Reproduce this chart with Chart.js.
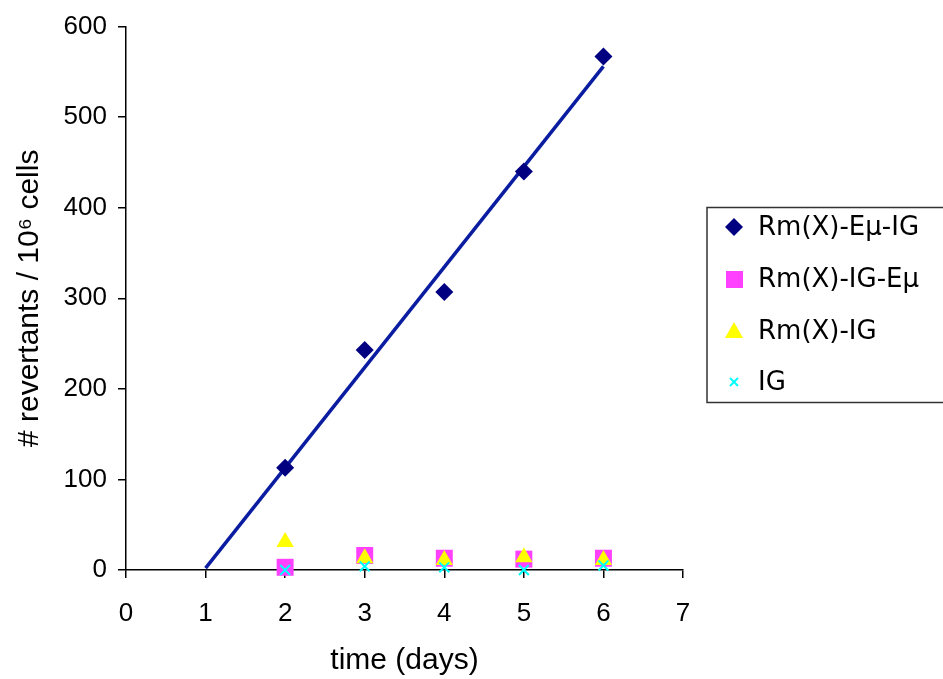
<!DOCTYPE html>
<html>
<head>
<meta charset="utf-8">
<title>revertants over time</title>
<script src="https://cdn.jsdelivr.net/npm/chart.js@4.4.1/dist/chart.umd.min.js"></script>
<style>
  body { margin: 0; background: #fff; }
  #wrap { width: 943px; height: 679px; position: relative; }
</style>
</head>
<body>
<div id="wrap"><canvas id="chart-canvas"></canvas></div>
<script>
'use strict';
// data
var days = [2, 3, 4, 5, 6];
var emuIG = [113, 243, 307, 440, 567];   // Rm(X)-Eμ-IG
var igEmu = [3, 16, 13, 12, 13];         // Rm(X)-IG-Eμ
var rmIG = [31, 13, 11, 14, 11];         // Rm(X)-IG
var igOnly = [0, 4, 3, 0, 5];            // IG
var trendDays = [1, 6];
var trendValues = [2, 556];              // linear trend of Rm(X)-Eμ-IG

var seriesNames = ['Rm(X)-Eμ-IG', 'Rm(X)-IG-Eμ', 'Rm(X)-IG', 'IG'];
var xTicks = [0, 1, 2, 3, 4, 5, 6, 7];
var yTicks = [0, 100, 200, 300, 400, 500, 600];

function toPoints(xs, ys) {
    var pts = [];
    for (var i = 0; i < xs.length; i++) {
        pts.push({ x: xs[i], y: ys[i] });
    }
    return pts;
}

// legend box like the excel one, drawn after the chart
var legendBox = {
    id: 'legendBox',
    afterDraw: function (chart) {
        var ctx = chart.ctx;
        ctx.save();
        ctx.strokeStyle = '#333';
        ctx.lineWidth = 1.5;
        ctx.strokeRect(707, 207.5, 260, 195);

        var rows = [227, 279, 331, 382];
        var mx = 734;
        // diamond
        ctx.fillStyle = '#000080';
        ctx.beginPath();
        ctx.moveTo(mx, rows[0] - 9);
        ctx.lineTo(mx + 9, rows[0]);
        ctx.lineTo(mx, rows[0] + 9);
        ctx.lineTo(mx - 9, rows[0]);
        ctx.closePath();
        ctx.fill();
        // square
        ctx.fillStyle = '#FF40FF';
        ctx.fillRect(mx - 8, rows[1] - 8, 17, 17);
        // triangle
        ctx.fillStyle = '#FFFF00';
        ctx.beginPath();
        ctx.moveTo(mx, rows[2] - 9);
        ctx.lineTo(mx + 9, rows[2] + 7);
        ctx.lineTo(mx - 9, rows[2] + 7);
        ctx.closePath();
        ctx.fill();
        // cross
        ctx.strokeStyle = '#00FFFF';
        ctx.lineWidth = 2;
        ctx.beginPath();
        ctx.moveTo(mx - 4, rows[3] - 4);
        ctx.lineTo(mx + 4, rows[3] + 4);
        ctx.moveTo(mx + 4, rows[3] - 4);
        ctx.lineTo(mx - 4, rows[3] + 4);
        ctx.stroke();

        ctx.fillStyle = '#000';
        ctx.font = '26px "DejaVu Sans"';
        ctx.textBaseline = 'middle';
        ctx.textAlign = 'left';
        for (var i = 0; i < seriesNames.length; i++) {
            ctx.fillText(seriesNames[i], 758, rows[i] + 1);
        }
        ctx.restore();
    }
};

var tickFont = { family: '"Liberation Sans", Arial', size: 26 };
var titleFont = { family: '"Liberation Sans", Arial', size: 30 };

new Chart(document.getElementById('chart-canvas').getContext('2d'), {
    type: 'scatter',
    data: {
        datasets: [{
            label: 'trend',
            type: 'line',
            data: toPoints(trendDays, trendValues),
            borderColor: '#0A1CA0',
            borderWidth: 3.5,
            pointRadius: 0,
            showLine: true,
            fill: false,
            order: 5,
            clip: false
        }, {
            label: seriesNames[0],
            data: toPoints(days, emuIG),
            pointStyle: 'rectRot',
            pointRadius: 9,
            pointHoverRadius: 9,
            backgroundColor: '#000080',
            borderColor: '#000080',
            borderWidth: 0,
            order: 4,
            clip: false
        }, {
            label: seriesNames[1],
            data: toPoints(days, igEmu),
            pointStyle: 'rect',
            pointRadius: 12,
            pointHoverRadius: 12,
            backgroundColor: '#FF40FF',
            borderColor: '#FF40FF',
            borderWidth: 0,
            order: 3,
            clip: false
        }, {
            label: seriesNames[2],
            data: toPoints(days, rmIG),
            pointStyle: 'triangle',
            pointRadius: 10,
            pointHoverRadius: 10,
            backgroundColor: '#FFFF00',
            borderColor: '#FFFF00',
            borderWidth: 0,
            order: 2,
            clip: false
        }, {
            label: seriesNames[3],
            data: toPoints(days, igOnly),
            pointStyle: 'crossRot',
            pointRadius: 7,
            pointHoverRadius: 7,
            backgroundColor: '#00FFFF',
            borderColor: '#00FFFF',
            borderWidth: 2,
            order: 1,
            clip: false
        }]
    },
    options: {
        responsive: true,
        maintainAspectRatio: false,
        animation: false,
        layout: { padding: { left: 0, top: 24, right: 260, bottom: 0 } },
        plugins: {
            legend: { display: false },
            tooltip: { enabled: false }
        },
        scales: {
            x: {
                type: 'linear',
                min: 0,
                max: 7,
                afterFit: function (scale) { scale.height = 109; },
                afterBuildTicks: function (scale) {
                    scale.ticks = xTicks.map(function (v) { return { value: v }; });
                },
                ticks: { color: '#000', font: tickFont, padding: 20 },
                grid: { drawOnChartArea: false, drawTicks: true, tickLength: 8, color: '#000', lineWidth: 1.5 },
                border: { display: true, color: '#000', width: 1.5 },
                title: { display: true, text: 'time (days)', color: '#000', font: titleFont, padding: { top: 0, bottom: 0 } }
            },
            y: {
                type: 'linear',
                min: 0,
                max: 600,
                afterFit: function (scale) { scale.width = 126; },
                afterBuildTicks: function (scale) {
                    scale.ticks = yTicks.map(function (v) { return { value: v }; });
                },
                ticks: { color: '#000', font: tickFont, padding: 11 },
                grid: { drawOnChartArea: false, drawTicks: true, tickLength: 8, color: '#000', lineWidth: 1.5 },
                border: { display: true, color: '#000', width: 1.5 },
                title: { display: true, text: '# revertants / 10⁶ cells', color: '#000', font: titleFont, padding: { top: 12, bottom: 0 } }
            }
        }
    },
    plugins: [legendBox]
});
</script>
</body>
</html>
